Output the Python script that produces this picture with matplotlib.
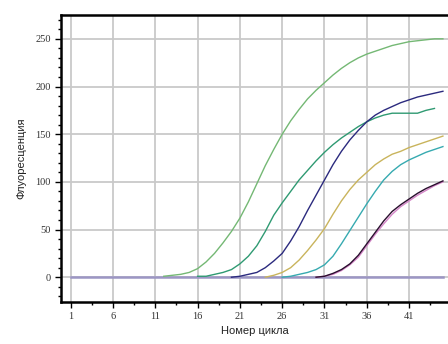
import numpy as np
import matplotlib
matplotlib.use('Agg')
import matplotlib.pyplot as plt
from matplotlib.ticker import MultipleLocator, FixedLocator

cycles = np.arange(1, 46)

# each curve: (first cycle drawn, values from that cycle to 45)
light_green = (12, [1, 2, 3, 5, 9, 16, 25, 36, 48, 62, 79, 98, 117, 134, 150, 164, 176, 187,
                    196, 204, 212, 219, 225, 230, 234, 237, 240, 243, 245, 247, 248, 249, 250, 250])
teal_green = (16, [1, 1, 3, 5, 8, 14, 22, 33, 48, 65, 78, 90, 102, 112, 122, 131, 139, 146,
                   152, 158, 163, 167, 170, 172, 172, 172, 172, 175, 177])
navy = (20, [0, 1, 3, 5, 10, 17, 25, 38, 53, 70, 86, 102, 118, 132, 144, 154, 163, 170, 175,
             179, 183, 186, 189, 191, 193, 195])
olive = (24, [0, 2, 5, 10, 18, 28, 39, 51, 66, 80, 92, 102, 110, 118, 124, 129, 132, 136,
              139, 142, 145, 148])
cyan = (26, [0, 1, 3, 5, 8, 13, 22, 35, 49, 63, 77, 90, 102, 111, 118, 123, 127, 131, 134, 137])
dark_purple = (30, [0, 1, 4, 8, 14, 23, 35, 47, 59, 69, 76, 82, 88, 93, 97, 101])
pink = (30, [0, 1, 3, 7, 13, 21, 33, 45, 56, 66, 74, 80, 86, 91, 96, 100])
flat = (1, [0] * 45)

series = [
    (flat, '#9c96c4', 1.8),
    (light_green, '#74b874', 1.0),
    (teal_green, '#2f9a72', 1.0),
    (navy, '#2b2a7e', 1.0),
    (olive, '#c9b45c', 1.0),
    (cyan, '#36aab0', 1.0),
    (pink, '#d585c8', 1.0),
    (dark_purple, '#2a0f2e', 1.0),
]

fig = plt.figure(figsize=(4.48, 3.44), dpi=100)
ax = fig.add_axes([61 / 448, 42 / 344, 1 - 61 / 448, 287 / 344])

for (start, vals), color, lw in series:
    x = np.arange(start, start + len(vals))
    ax.plot(x, vals, color=color, lw=lw, zorder=3)

ax.set_xlim(-0.15, 45.6)
ax.set_ylim(-26, 275)

ax.xaxis.set_major_locator(FixedLocator(np.arange(1, 46, 5)))
ax.xaxis.set_minor_locator(FixedLocator(np.arange(3.5, 46, 5)))
ax.yaxis.set_major_locator(MultipleLocator(50))
ax.yaxis.set_minor_locator(MultipleLocator(10))
ax.set_yticks(np.arange(0, 251, 50))

ax.grid(True, which='major', color='#c9c9c9', lw=1.3, zorder=0)
ax.spines['right'].set_visible(False)
for s in ['left', 'bottom', 'top']:
    ax.spines[s].set_linewidth(1.8)
    ax.spines[s].set_color('black')

ax.tick_params(axis='both', which='major', length=4, width=1, colors='black',
               labelsize=7.5, labelcolor='#333333')
ax.tick_params(axis='both', which='minor', length=2, width=1, colors='black')
for lab in ax.get_xticklabels() + ax.get_yticklabels():
    lab.set_family('Liberation Serif')

ax.set_xlabel('Номер цикла', fontsize=8, family='Liberation Sans', labelpad=3, color='#222222')
ax.set_ylabel('Флуоресценция', fontsize=8, family='Liberation Sans', labelpad=6, color='#222222')

fig.savefig('out.png', dpi=100)
